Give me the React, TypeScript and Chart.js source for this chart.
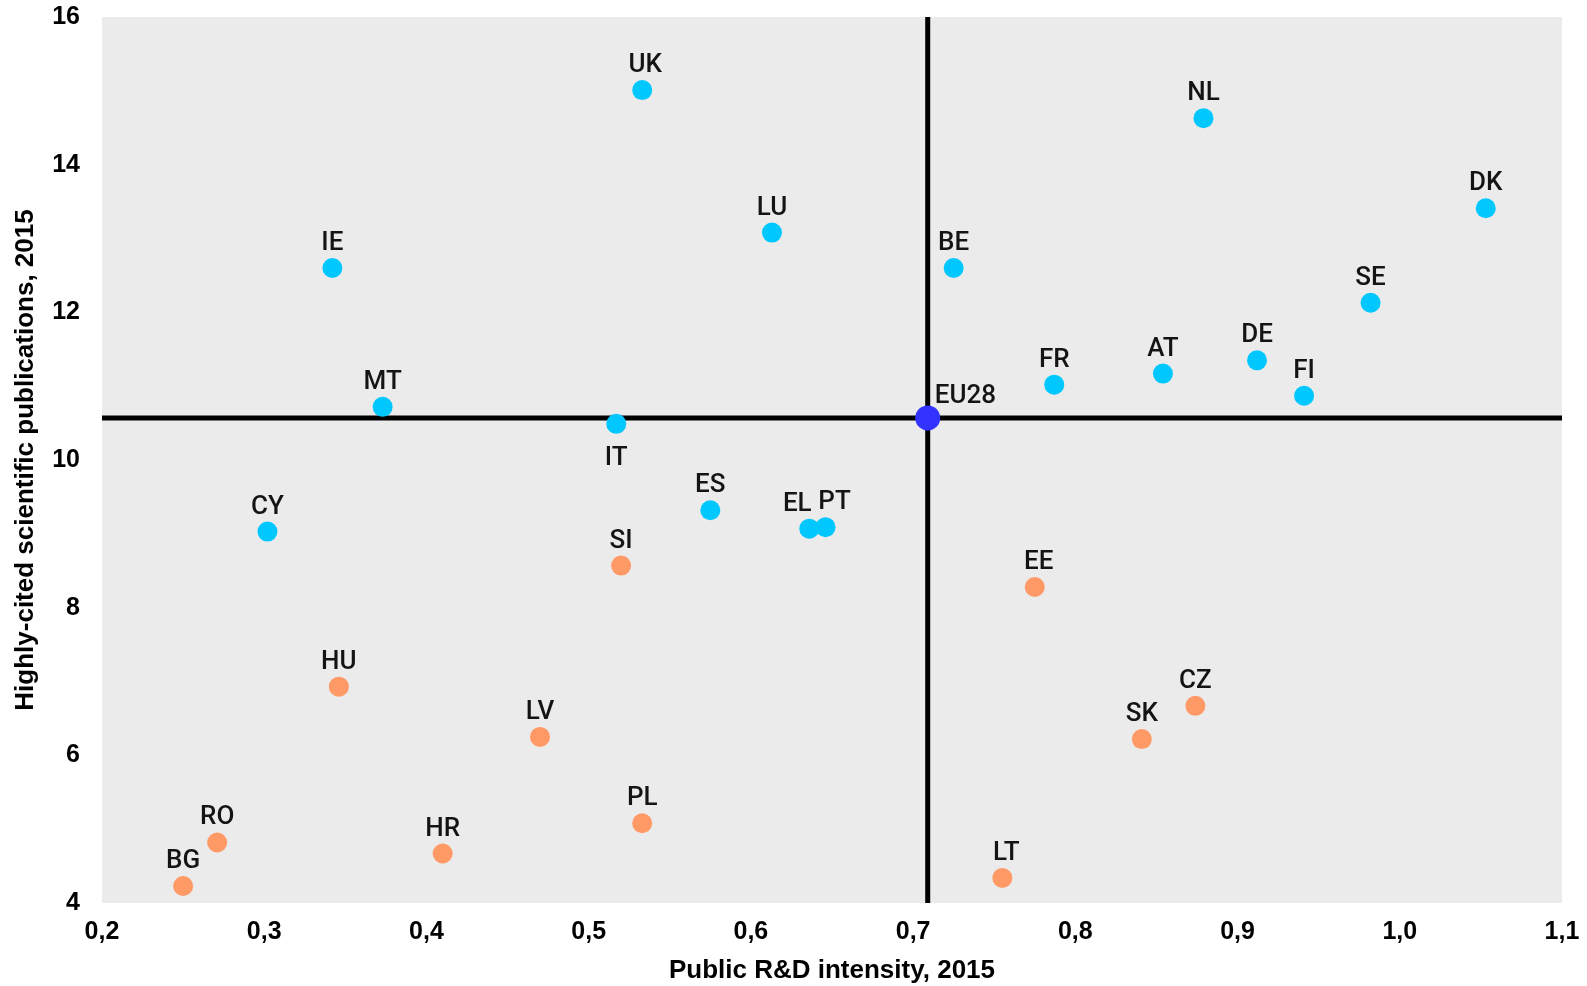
import React, { useEffect, useRef } from 'react';
import { Chart, registerables } from 'chart.js';

Chart.register(...registerables);

// ---- Data ----
// Countries above / around the EU average (cyan)
const cyanCodes = ['UK', 'NL', 'DK', 'LU', 'IE', 'BE', 'SE', 'DE', 'AT', 'FR', 'FI', 'MT', 'IT', 'ES', 'CY', 'EL', 'PT'];
const cyanRD = [0.533, 0.879, 1.053, 0.613, 0.342, 0.725, 0.982, 0.912, 0.854, 0.787, 0.941, 0.373, 0.517, 0.575, 0.302, 0.636, 0.646];
const cyanPubs = [15.01, 14.63, 13.41, 13.08, 12.6, 12.6, 12.13, 11.35, 11.17, 11.02, 10.87, 10.72, 10.49, 9.32, 9.03, 9.07, 9.09];

// Countries in the lower group (orange)
const orangeCodes = ['SI', 'EE', 'HU', 'CZ', 'LV', 'SK', 'PL', 'RO', 'HR', 'LT', 'BG'];
const orangeRD = [0.52, 0.775, 0.346, 0.874, 0.47, 0.841, 0.533, 0.271, 0.41, 0.755, 0.25];
const orangePubs = [8.57, 8.28, 6.93, 6.67, 6.25, 6.22, 5.08, 4.82, 4.67, 4.34, 4.23];

// EU average
const euCodes = ['EU28'];
const euRD = [0.709];
const euPubs = [10.57];

// Axes
const xMin = 0.2;
const xMax = 1.1;
const xStep = 0.1;
const yMin = 4;
const yMax = 16;
const yStep = 2;
const xTitle = 'Public R&D intensity, 2015';
const yTitle = 'Highly-cited scientific publications, 2015';

// ---- Label placement (style) ----
const LABEL_NUDGE: Record<string, { dx?: number; dy?: number; align?: CanvasTextAlign }> = {
  IT: { dy: 41 },
  EU28: { dx: 7, dy: -15, align: 'left' },
  EL: { dx: -12 },
  PT: { dx: 9 },
  UK: { dx: 3 },
  EE: { dx: 4 },
  LT: { dx: 4 },
};

const toPoints = (xs: number[], ys: number[]) => xs.map((x, i) => ({ x, y: ys[i] }));

const bgPlugin = {
  id: 'plotBg',
  beforeDraw(chart: any) {
    const { ctx, chartArea } = chart;
    ctx.save();
    ctx.fillStyle = '#EBEBEB';
    ctx.fillRect(chartArea.left, chartArea.top, chartArea.right - chartArea.left, chartArea.bottom - chartArea.top);
    ctx.restore();
  },
};

const labelPlugin = {
  id: 'pointLabels',
  afterDatasetsDraw(chart: any) {
    const { ctx } = chart;
    ctx.save();
    ctx.font = '500 26px Roboto';
    ctx.fillStyle = '#141414';
    ctx.textBaseline = 'alphabetic';
    chart.data.datasets.forEach((ds: any, di: number) => {
      if (!ds.codes) return;
      const meta = chart.getDatasetMeta(di);
      meta.data.forEach((el: any, i: number) => {
        const code = ds.codes[i];
        const n = LABEL_NUDGE[code] || {};
        ctx.textAlign = n.align || 'center';
        ctx.fillText(code, el.x + (n.dx ?? 0), el.y + (n.dy ?? -18));
      });
    });
    ctx.restore();
  },
};

export default function App() {
  const canvasRef = useRef<HTMLCanvasElement | null>(null);

  useEffect(() => {
    document.body.style.margin = '0';
    const canvas = canvasRef.current;
    if (!canvas) return;
    const fmt = (v: number) => Number(v).toFixed(1).replace('.', ',');
    const chart = new Chart(canvas, {
      type: 'scatter',
      data: {
        datasets: [
          {
            label: 'EU28',
            codes: euCodes,
            data: toPoints(euRD, euPubs),
            backgroundColor: '#3333FF',
            pointRadius: 12.5,
            borderWidth: 0,
          } as any,
          {
            label: 'group1',
            codes: cyanCodes,
            data: toPoints(cyanRD, cyanPubs),
            backgroundColor: '#00C8FF',
            pointRadius: 10,
            borderWidth: 0,
          } as any,
          {
            label: 'group2',
            codes: orangeCodes,
            data: toPoints(orangeRD, orangePubs),
            backgroundColor: '#FF9966',
            pointRadius: 10,
            borderWidth: 0,
          } as any,
          {
            label: 'hline',
            data: [
              { x: xMin, y: euPubs[0] },
              { x: xMax, y: euPubs[0] },
            ],
            showLine: true,
            borderColor: '#000000',
            borderWidth: 5,
            pointRadius: 0,
          } as any,
          {
            label: 'vline',
            data: [
              { x: euRD[0], y: yMin },
              { x: euRD[0], y: yMax },
            ],
            showLine: true,
            borderColor: '#000000',
            borderWidth: 5,
            pointRadius: 0,
          } as any,
        ],
      },
      options: {
        animation: false,
        responsive: true,
        maintainAspectRatio: false,
        events: [],
        layout: { padding: { top: 17, right: 25, left: 0, bottom: 0 } },
        plugins: {
          legend: { display: false },
          tooltip: { enabled: false },
        },
        scales: {
          x: {
            type: 'linear',
            min: xMin,
            max: xMax,
            grid: { display: false, drawTicks: false },
            border: { display: false },
            afterFit: (s: any) => {
              s.height = 83;
              s.paddingLeft = 0;
              s.paddingRight = 0;
            },
            ticks: {
              stepSize: xStep,
              padding: 14,
              color: '#000',
              font: { family: 'Liberation Sans, Arial, sans-serif', size: 25, weight: 'bold' },
              callback: (v: any) => fmt(v),
            },
            title: {
              display: true,
              text: xTitle,
              color: '#000',
              padding: { top: 0, bottom: 0 },
              font: { family: 'Liberation Sans, Arial, sans-serif', size: 26, weight: 'bold' },
            },
          },
          y: {
            type: 'linear',
            min: yMin,
            max: yMax,
            grid: { display: false, drawTicks: false },
            border: { display: false },
            afterFit: (s: any) => {
              s.width = 102;
              s.paddingTop = 0;
              s.paddingBottom = 0;
            },
            ticks: {
              stepSize: yStep,
              padding: 22,
              color: '#000',
              font: { family: 'Liberation Sans, Arial, sans-serif', size: 25, weight: 'bold' },
            },
            title: {
              display: true,
              text: yTitle,
              color: '#000',
              padding: { top: 10, bottom: 0 },
              font: { family: 'Liberation Sans, Arial, sans-serif', size: 26, weight: 'bold' },
            },
          },
        },
      } as any,
      plugins: [bgPlugin, labelPlugin],
    });
    return () => chart.destroy();
  }, []);

  return (
    <div style={{ width: 1587, height: 986, position: 'relative' }}>
      <canvas ref={canvasRef} />
    </div>
  );
}
